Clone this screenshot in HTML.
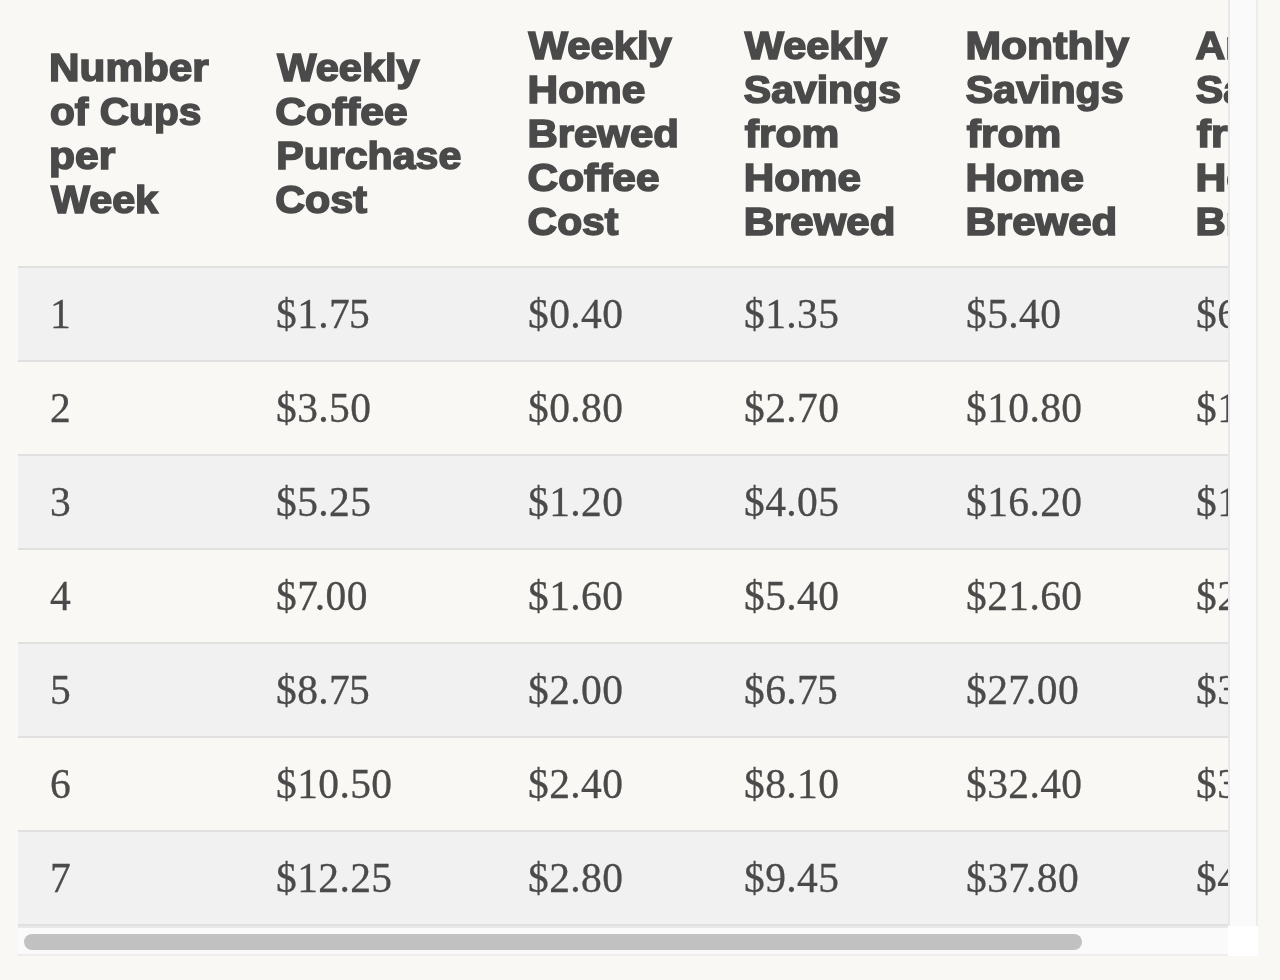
<!DOCTYPE html>
<html lang="en">
<head>
<meta charset="utf-8">
<title>Coffee Savings Table</title>
<style>
  html, body { margin: 0; padding: 0; }
  body {
    width: 1280px; height: 980px; overflow: hidden; position: relative;
    background: #f9f8f4;
    color: #4a4a4a;
  }
  .wrap {
    position: absolute; left: 18px; top: 0; width: 1210px; height: 926px;
    overflow: hidden;
  }
  table {
    border-collapse: collapse; table-layout: fixed; width: 1460px;
    position: absolute; left: 0; top: 0;
  }
  th {
    font-family: "Liberation Sans", Arial, sans-serif;
    font-weight: 700; font-size: 38.5px; line-height: 44px;
    -webkit-text-stroke: 1.6px #4a4a4a;
    text-align: left; vertical-align: middle;
    padding: 24px 0 22px 31px;
    height: 220px;
    color: #4a4a4a;
    border-bottom: 2px solid #e0e0e0;
    box-sizing: content-box;
  }
  th span { display: block; white-space: nowrap; transform-origin: 0 50%; }
  td {
    font-family: "Liberation Serif", "Times New Roman", serif;
    font-size: 41.5px; line-height: 48px; letter-spacing: 0.4px;
    -webkit-text-stroke: 0.3px #4a4a4a;
    padding: 0 0 0 32px;
    height: 92px;
    vertical-align: middle;
    color: #4a4a4a;
    border-bottom: 2px solid #e0e0e0;
    white-space: nowrap;
  }
  td i { font-style: normal; }
  td i.a { letter-spacing: -3.1px; }
  td i.b { letter-spacing: -0.9px; }
  tbody tr:nth-child(odd) td { background: #f1f1f1; }
  .vtrack {
    position: absolute; left: 1228px; top: 0; width: 30px; height: 926px;
    box-sizing: border-box; background: #fafafa;
    border-left: 2px solid #e8e8e8; border-right: 2px solid #ededed;
  }
  .htrack {
    position: absolute; left: 18px; top: 926px; width: 1210px; height: 30px;
    box-sizing: border-box; background: #fafafa;
    border-top: 2px solid #e8e8e8; border-bottom: 2px solid #ededed;
  }
  .thumb {
    position: absolute; left: 24px; top: 934px; width: 1058px; height: 16px;
    border-radius: 8px; background: #c1c1c1;
  }
  .corner {
    position: absolute; left: 1228px; top: 926px; width: 30px; height: 30px; background: #fff;
  }
</style>
</head>
<body>
<div class="wrap">
<table>
  <colgroup>
    <col style="width:226px"><col style="width:252px"><col style="width:216px">
    <col style="width:222px"><col style="width:230px"><col style="width:314px">
  </colgroup>
  <thead>
    <tr>
      <th><span style="transform:translateX(0.06px) scaleX(1.098)">Number</span><span style="transform:translateX(1.02px) scaleX(1.056)">of Cups</span><span style="transform:translateX(0.06px) scaleX(1.106)">per</span><span style="transform:translateX(1.98px) scaleX(1.072)">Week</span></th>
      <th><span style="transform:translateX(2.16px) scaleX(1.08)">Weekly</span><span style="transform:translateX(0.22px) scaleX(1.105)">Coffee</span><span style="transform:translateX(1.28px) scaleX(1.067)">Purchase</span><span style="transform:translateX(0.2px) scaleX(1.072)">Cost</span></th>
      <th><span style="transform:translateX(1.59px) scaleX(1.085)">Weekly</span><span style="transform:translateX(0.46px) scaleX(1.103)">Home</span><span style="transform:translateX(0.45px) scaleX(1.089)">Brewed</span><span style="transform:translateX(0.62px) scaleX(1.101)">Coffee</span><span style="transform:translateX(0.6px) scaleX(1.062)">Cost</span></th>
      <th><span style="transform:translateX(1.77px) scaleX(1.078)">Weekly</span><span style="transform:translateX(0.82px) scaleX(1.064)">Savings</span><span style="transform:translateX(1.79px) scaleX(1.104)">from</span><span style="transform:translateX(0.67px) scaleX(1.097)">Home</span><span style="transform:translateX(0.66px) scaleX(1.091)">Brewed</span></th>
      <th><span style="transform:translateX(0.46px) scaleX(1.109)">Monthly</span><span style="transform:translateX(0.81px) scaleX(1.069)">Savings</span><span style="transform:translateX(1.79px) scaleX(1.103)">from</span><span style="transform:translateX(0.43px) scaleX(1.108)">Home</span><span style="transform:translateX(0.46px) scaleX(1.091)">Brewed</span></th>
      <th><span style="transform:translateX(0.6px) scaleX(1.07)">Annual</span><span style="transform:translateX(0.81px) scaleX(1.069)">Savings</span><span style="transform:translateX(1.79px) scaleX(1.103)">from</span><span style="transform:translateX(0.43px) scaleX(1.108)">Home</span><span style="transform:translateX(0.46px) scaleX(1.091)">Brewed</span></th>
    </tr>
  </thead>
  <tbody>
    <tr><td>1</td><td>$1.<i class="b">7</i>5</td><td>$0.40</td><td>$1.35</td><td>$5.40</td><td>$64.80</td></tr>
    <tr><td>2</td><td>$3.50</td><td>$0.80</td><td>$2.70</td><td>$10.80</td><td>$129.60</td></tr>
    <tr><td>3</td><td>$5.25</td><td>$1.20</td><td>$4.05</td><td>$16.20</td><td>$194.40</td></tr>
    <tr><td>4</td><td>$<i class="a">7</i>.00</td><td>$1.60</td><td>$5.40</td><td>$21.60</td><td>$259.20</td></tr>
    <tr><td>5</td><td>$8.<i class="b">7</i>5</td><td>$2.00</td><td>$6.<i class="b">7</i>5</td><td>$2<i class="a">7</i>.00</td><td>$324.00</td></tr>
    <tr><td>6</td><td>$10.50</td><td>$2.40</td><td>$8.10</td><td>$32.40</td><td>$388.80</td></tr>
    <tr><td>7</td><td>$12.25</td><td>$2.80</td><td>$9.45</td><td>$3<i class="a">7</i>.80</td><td>$453.60</td></tr>
  </tbody>
</table>
</div>
<div class="vtrack"></div>
<div class="htrack"></div>
<div class="thumb"></div>
<div class="corner"></div>
</body>
</html>
